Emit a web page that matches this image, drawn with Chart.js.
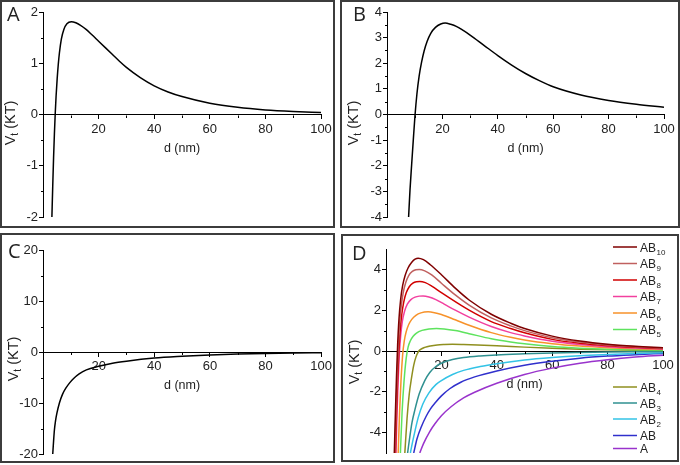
<!DOCTYPE html>
<html><head><meta charset="utf-8">
<script src="https://cdn.jsdelivr.net/npm/chart.js@4.4.0/dist/chart.umd.min.js"></script>
<style>
html,body{margin:0;padding:0;background:#fff;}
body{width:680px;height:465px;position:relative;overflow:hidden;}
.panel{position:absolute;}
.panel canvas{position:absolute;left:0;top:0;}
.frame{position:absolute;left:0;top:0;right:0;bottom:0;border:2px solid #3c3c3c;box-sizing:border-box;pointer-events:none;}
</style></head><body>
<div class="panel" style="left:0px;top:0px;width:335px;height:228px"><canvas id="cA" width="335" height="228"></canvas><div class="frame"></div></div>
<div class="panel" style="left:340px;top:0px;width:340px;height:228px"><canvas id="cB" width="340" height="228"></canvas><div class="frame"></div></div>
<div class="panel" style="left:0px;top:233px;width:335px;height:230px"><canvas id="cC" width="335" height="230"></canvas><div class="frame"></div></div>
<div class="panel" style="left:341px;top:234px;width:338px;height:228px"><canvas id="cD" width="338" height="228"></canvas><div class="frame"></div></div>
<script>
// ---------- data ----------
const xTicks = [20, 40, 60, 80, 100];
const xMinor = [10, 30, 50, 70, 90];
const xTitle = 'd (nm)';
const yTitleMain = 'V', yTitleSub = 't', yTitleUnit = ' (KT)';

// Panel A
const dA = [3.2, 3.5, 3.8, 4.1, 4.4, 4.7, 5.1, 5.5, 5.9, 6.6, 7.5, 8.6, 10.2, 11.8, 13.5, 15.5, 17.5, 20, 22.5, 25, 27.5, 30, 35, 40, 45, 50, 60, 70, 80, 90, 100];
const vA = [-2.0, -1.4, -0.85, -0.38, 0.02, 0.35, 0.7, 0.98, 1.2, 1.47, 1.66, 1.77, 1.81, 1.79, 1.74, 1.66, 1.56, 1.43, 1.3, 1.17, 1.04, 0.92, 0.72, 0.56, 0.44, 0.35, 0.22, 0.14, 0.09, 0.06, 0.04];
const yTicksA = [-2, -1, 0, 1, 2];
const yMinorA = [-1.5, -0.5, 0.5, 1.5];

// Panel B
const dB = [7.8, 8.3, 8.9, 9.5, 10.1, 10.8, 11.6, 12.5, 13.4, 14.5, 15.8, 17.5, 19.4, 21, 23, 25, 27.5, 30, 35, 40, 45, 50, 55, 60, 70, 80, 90, 100];
const vB = [-4.0, -2.95, -1.95, -0.98, -0.05, 0.8, 1.5, 2.05, 2.48, 2.86, 3.17, 3.4, 3.53, 3.57, 3.52, 3.44, 3.28, 3.1, 2.7, 2.3, 1.93, 1.6, 1.32, 1.08, 0.76, 0.55, 0.4, 0.28];
const yTicksB = [-4, -3, -2, -1, 0, 1, 2, 3, 4];
const yMinorB = [-3.5, -2.5, -1.5, -0.5, 0.5, 1.5, 2.5, 3.5];

// Panel C
const dC = [3.5, 3.8, 4.1, 4.5, 5.0, 5.9, 7.0, 8.2, 9.5, 11, 13, 15.6, 20, 25, 30, 40, 50, 60, 70, 80, 90, 100];
const vC = [-20, -17.5, -15.3, -13.5, -12.0, -10.0, -8.3, -7.1, -6.1, -5.2, -4.3, -3.5, -2.8, -2.2, -1.8, -1.2, -0.85, -0.58, -0.4, -0.28, -0.19, -0.13];
const yTicksC = [-20, -10, 0, 10, 20];
const yMinorC = [-15, -5, 5, 15];

// Panel D
const labelsD = ['AB10', 'AB9', 'AB8', 'AB7', 'AB6', 'AB5', 'AB4', 'AB3', 'AB2', 'AB', 'A'];
const colorsD = ['#7f0000', '#c0605f', '#d10000', '#f2409f', '#f7922a', '#5ee35e', '#8f8f1f', '#2f9090', '#33c3e6', '#3030cc', '#9933cc'];
const dAB10 = [3.0, 3.4, 3.8, 4.2, 4.7, 5.3, 6.0, 6.9, 8.0, 9.3, 10.5, 11.6, 13.5, 16, 20, 25, 30, 38, 45, 50, 60, 70, 80, 90, 100];
const vAB10 = [-5, -3.0, -1.2, 0.3, 1.6, 2.55, 3.2, 3.7, 4.08, 4.35, 4.5, 4.55, 4.48, 4.23, 3.74, 3.08, 2.5, 1.8, 1.36, 1.1, 0.73, 0.49, 0.33, 0.23, 0.16];
const dAB9 = [3.2, 3.6, 4.0, 4.4, 4.9, 5.5, 6.2, 7.1, 8.2, 9.5, 10.8, 12, 14, 16.5, 20, 25, 30, 38, 45, 50, 60, 70, 80, 90, 100];
const vAB9 = [-5, -3.0, -1.3, 0.1, 1.3, 2.2, 2.85, 3.35, 3.7, 3.9, 3.98, 4.0, 3.93, 3.73, 3.32, 2.75, 2.25, 1.62, 1.23, 1.0, 0.65, 0.44, 0.3, 0.21, 0.14];
const dAB8 = [3.4, 3.8, 4.2, 4.6, 5.1, 5.7, 6.4, 7.3, 8.4, 9.7, 11, 12.2, 14.2, 16.5, 20, 25, 30, 38, 45, 50, 60, 70, 80, 90, 100];
const vAB8 = [-5, -3.0, -1.4, -0.1, 1.0, 1.8, 2.4, 2.85, 3.15, 3.33, 3.4, 3.41, 3.35, 3.18, 2.86, 2.42, 2.0, 1.44, 1.1, 0.89, 0.57, 0.38, 0.26, 0.18, 0.12];
const dAB7 = [3.6, 4.0, 4.4, 4.8, 5.3, 5.9, 6.7, 7.7, 9.0, 10.5, 12, 13.4, 15.5, 18, 21, 25, 30, 38, 45, 50, 60, 70, 80, 90, 100];
const vAB7 = [-5, -3.0, -1.4, -0.2, 0.75, 1.45, 1.95, 2.3, 2.52, 2.64, 2.69, 2.7, 2.65, 2.52, 2.3, 2.0, 1.66, 1.2, 0.9, 0.74, 0.48, 0.32, 0.21, 0.15, 0.1];
const dAB6 = [4.4, 4.9, 5.4, 6.0, 6.6, 7.3, 8.2, 9.3, 10.8, 12.6, 15.2, 17.5, 20, 25, 30, 38, 45, 50, 60, 70, 80, 90, 100];
const vAB6 = [-5, -3.0, -1.5, -0.2, 0.5, 0.95, 1.3, 1.55, 1.75, 1.87, 1.92, 1.88, 1.79, 1.53, 1.26, 0.9, 0.67, 0.54, 0.36, 0.24, 0.16, 0.11, 0.08];
const dAB5 = [5.2, 5.8, 6.5, 7.3, 8.0, 8.8, 9.8, 11, 13, 15.5, 18.2, 21, 25, 30, 38, 45, 50, 60, 70, 80, 90, 100];
const vAB5 = [-5, -3.0, -1.5, -0.35, 0.2, 0.5, 0.72, 0.88, 1.01, 1.08, 1.1, 1.08, 1.0, 0.85, 0.6, 0.44, 0.35, 0.22, 0.14, 0.09, 0.06, 0.045];
const dAB4 = [6.8, 7.6, 8.4, 9.2, 10.0, 10.8, 11.6, 12.5, 14, 16, 18.5, 21, 24, 28, 33, 40, 50, 60, 70, 80, 90, 100];
const vAB4 = [-5, -3.3, -2.1, -1.33, -0.7, -0.3, -0.05, 0.08, 0.18, 0.25, 0.3, 0.32, 0.33, 0.32, 0.3, 0.26, 0.19, 0.13, 0.09, 0.06, 0.04, 0.03];
const dAB3 = [7.8, 8.6, 9.4, 10.4, 12, 14, 15.8, 18, 20, 24, 28, 34, 40, 50, 60, 70, 80, 90, 100];
const vAB3 = [-5, -4.2, -3.5, -2.9, -2.1, -1.45, -1.05, -0.76, -0.6, -0.42, -0.32, -0.24, -0.19, -0.14, -0.1, -0.075, -0.055, -0.04, -0.03];
const dAB2 = [8.8, 9.6, 10.5, 11.6, 13.3, 15.5, 18, 20, 24, 28, 34, 40, 50, 60, 70, 80, 90, 100];
const vAB2 = [-5, -4.45, -3.9, -3.28, -2.6, -2.05, -1.65, -1.45, -1.15, -0.95, -0.76, -0.62, -0.44, -0.32, -0.23, -0.17, -0.12, -0.08];
const dAB = [10.0, 11.2, 12.8, 14.5, 16, 18, 20, 23, 27, 32, 40, 50, 60, 70, 80, 90, 100];
const vAB = [-5, -4.3, -3.7, -3.2, -2.85, -2.5, -2.2, -1.85, -1.53, -1.27, -0.98, -0.7, -0.5, -0.35, -0.25, -0.18, -0.12];
const dAonly = [12.2, 13.5, 15.8, 17.6, 20, 23.6, 28, 32, 40, 50, 60, 70, 80, 90, 100];
const vAonly = [-5, -4.55, -3.95, -3.58, -3.17, -2.72, -2.3, -2.02, -1.58, -1.15, -0.84, -0.6, -0.43, -0.3, -0.21];
const yTicksD = [-4, -2, 0, 2, 4];
const yMinorD = [-3, -1, 1, 3];

// ---------- helpers ----------
const FONT = "'Liberation Sans', Arial, sans-serif";
const LETTER_FONT = "20px 'Open Sans', 'Noto Sans', sans-serif";
const toPts = (d, v) => d.map((x, i) => ({ x: x, y: v[i] }));

function splitLabel(s) {
  const m = s.match(/^([A-Za-z]+)(\d*)$/);
  return m ? [m[1], m[2]] : [s, ''];
}

const decor = {
  id: 'decor',
  afterDraw(chart, args, o) {
    const ctx = chart.ctx, xs = chart.scales.x, ys = chart.scales.y, ca = chart.chartArea;
    ctx.save();
    // minor ticks
    ctx.strokeStyle = '#000'; ctx.lineWidth = 1;
    const y0 = Math.round(ys.getPixelForValue(0)) + 0.5;
    ctx.beginPath();
    xMinor.forEach(v => { const x = Math.round(xs.getPixelForValue(v)) + 0.5; ctx.moveTo(x, y0); ctx.lineTo(x, y0 + 2.5); });
    const x0 = Math.round(ca.left) + 0.5;
    o.yMinor.forEach(v => { const y = Math.round(ys.getPixelForValue(v)) + 0.5; ctx.moveTo(x0, y); ctx.lineTo(x0 - 2.5, y); });
    ctx.stroke();
    // panel letter
    ctx.fillStyle = '#222'; ctx.font = LETTER_FONT; ctx.textBaseline = 'alphabetic'; ctx.textAlign = 'left';
    ctx.fillText(o.letter, o.letterX, o.letterY);
    // x title
    ctx.font = '12.5px ' + FONT; ctx.textAlign = 'center'; ctx.textBaseline = 'middle';
    ctx.fillText(xTitle, (ca.left + ca.right) / 2, ys.getPixelForValue(0) + 34);
    // y title with subscript
    ctx.translate(o.yTitleX, o.yTitleY);
    ctx.rotate(-Math.PI / 2);
    ctx.textAlign = 'left'; ctx.textBaseline = 'alphabetic';
    const big = '14.5px ' + FONT, small = '10px ' + FONT;
    ctx.font = big; const w1 = ctx.measureText(yTitleMain).width, w3 = ctx.measureText(yTitleUnit).width;
    ctx.font = small; const w2 = ctx.measureText(yTitleSub).width;
    let sx = -(w1 + w2 + w3) / 2;
    ctx.font = big; ctx.fillText(yTitleMain, sx, 5); sx += w1;
    ctx.font = small; ctx.fillText(yTitleSub, sx, 8); sx += w2;
    ctx.font = big; ctx.fillText(yTitleUnit, sx, 5);
    ctx.restore();
    // custom legend
    if (o.legendRows) {
      ctx.save();
      o.legendRows.forEach(r => {
        const ds = chart.data.datasets[r.i];
        ctx.strokeStyle = ds.borderColor; ctx.lineWidth = 1.5;
        ctx.beginPath(); ctx.moveTo(o.legendX0, r.y); ctx.lineTo(o.legendX1, r.y); ctx.stroke();
        const [base, sub] = splitLabel(ds.label);
        ctx.fillStyle = '#222'; ctx.textAlign = 'left'; ctx.textBaseline = 'alphabetic';
        ctx.font = '12px ' + FONT; ctx.fillText(base, o.legendX1 + 3, r.y + 4.5);
        const bw = ctx.measureText(base).width;
        if (sub) { ctx.font = '8px ' + FONT; ctx.fillText(sub, o.legendX1 + 3 + bw + 0.5, r.y + 7.5); }
      });
      ctx.restore();
    }
  }
};

function axisCommon() {
  return {
    grid: { drawOnChartArea: false, drawTicks: true, tickLength: 4, color: '#000', lineWidth: 1 },
    border: { display: true, color: '#000', width: 1 },
    ticks: { font: { family: FONT, size: 13 }, color: '#222', padding: 1, maxRotation: 0, autoSkip: false }
  };
}

function buildChart(id, o) {
  const xAxis = Object.assign(axisCommon(), {
    type: 'linear', min: 0, max: 100, position: { y: 0 },
    afterBuildTicks: s => { s.ticks = xTicks.map(v => ({ value: v })); },
    afterFit: s => { s.height = 0; }
  });
  xAxis.ticks = Object.assign({}, xAxis.ticks, { padding: 3 });
  const yAxis = Object.assign(axisCommon(), {
    type: 'linear', min: o.yMin, max: o.yMax, position: 'left',
    afterBuildTicks: s => { s.ticks = o.yTicks.map(v => ({ value: v })); },
    afterFit: s => { s.width = 30; }
  });
  return new Chart(document.getElementById(id), {
    type: 'line',
    data: { datasets: o.datasets },
    options: {
      responsive: false, animation: false, devicePixelRatio: 1,
      layout: { padding: o.pad },
      plugins: { legend: { display: false }, tooltip: { enabled: false }, decor: o.decor },
      elements: { point: { radius: 0 }, line: { borderWidth: 1.5, cubicInterpolationMode: 'monotone' } },
      scales: { x: xAxis, y: yAxis }
    },
    plugins: [decor]
  });
}

const blackSet = (d, v) => [{ label: 'Vt', data: toPts(d, v), borderColor: '#000', backgroundColor: '#000', fill: false }];

buildChart('cA', {
  yMin: -2, yMax: 2, yTicks: yTicksA,
  pad: { left: 13, right: 14, top: 12, bottom: 11 },
  datasets: blackSet(dA, vA),
  decor: { yMinor: yMinorA, letter: 'A', letterX: 7, letterY: 21, yTitleX: 10, yTitleY: 123 }
});
buildChart('cB', {
  yMin: -4, yMax: 4, yTicks: yTicksB,
  pad: { left: 17, right: 16, top: 12, bottom: 11 },
  datasets: blackSet(dB, vB),
  decor: { yMinor: yMinorB, letter: 'B', letterX: 13, letterY: 21, yTitleX: 12.5, yTitleY: 123 }
});
buildChart('cC', {
  yMin: -20, yMax: 20, yTicks: yTicksC,
  pad: { left: 13, right: 13, top: 17, bottom: 9 },
  datasets: blackSet(dC, vC),
  decor: { yMinor: yMinorC, letter: 'C', letterX: 8, letterY: 25, yTitleX: 13, yTitleY: 126 }
});

const seriesD = [[dAB10, vAB10], [dAB9, vAB9], [dAB8, vAB8], [dAB7, vAB7], [dAB6, vAB6], [dAB5, vAB5],
                 [dAB4, vAB4], [dAB3, vAB3], [dAB2, vAB2], [dAB, vAB], [dAonly, vAonly]];
const datasetsD = seriesD.map((s, i) => ({
  label: labelsD[i], data: toPts(s[0], s[1]), borderColor: colorsD[i], backgroundColor: colorsD[i], fill: false
}));
buildChart('cD', {
  yMin: -5, yMax: 5, yTicks: yTicksD,
  pad: { left: 15, right: 16, top: 15, bottom: 9 },
  datasets: datasetsD,
  decor: {
    yMinor: yMinorD, letter: 'D', letterX: 11, letterY: 26, yTitleX: 13, yTitleY: 128,
    legendX0: 272, legendX1: 296,
    legendRows: [
      { i: 0, y: 13 }, { i: 1, y: 29.5 }, { i: 2, y: 46 }, { i: 3, y: 62.5 }, { i: 4, y: 79 }, { i: 5, y: 95.5 },
      { i: 6, y: 153 }, { i: 7, y: 169 }, { i: 8, y: 185 }, { i: 9, y: 201.5 }, { i: 10, y: 214.5 }
    ]
  }
});
</script>
</body></html>
